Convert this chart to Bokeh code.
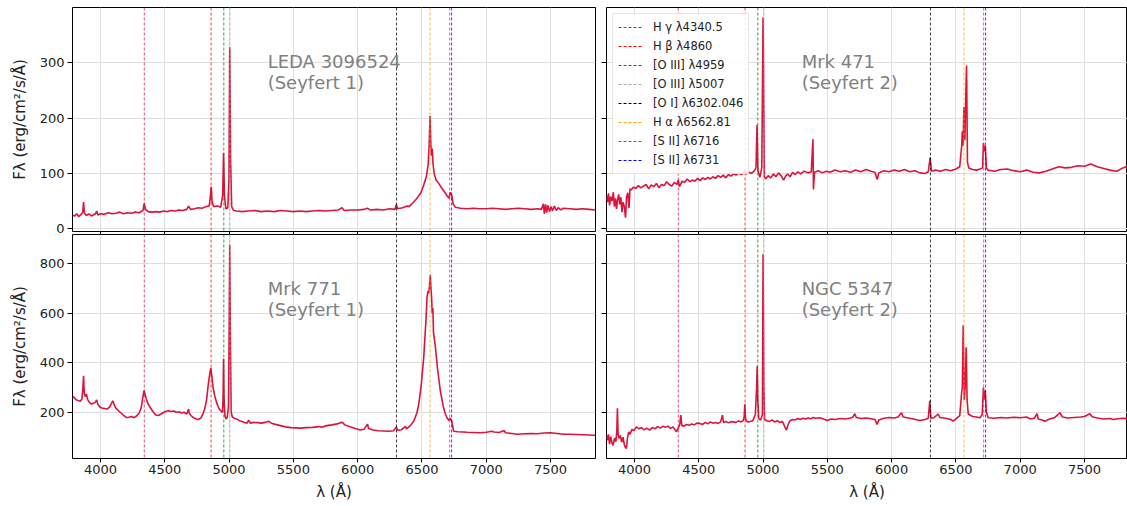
from bokeh.plotting import figure
from bokeh.models import (Range1d, Span, Legend, LegendItem, Label, FixedTicker,
                          CustomJSTickFormatter, ColumnDataSource)
from bokeh.layouts import column, row
from bokeh.embed import file_html
from bokeh.resources import INLINE

# ---------------- data ----------------
panel_names = ["LEDA 3096524", "Mrk 471", "Mrk 771", "NGC 5347"]
panel_types = ["Seyfert 1", "Seyfert 2", "Seyfert 1", "Seyfert 2"]

line_labels = ["H γ λ4340.5", "H β λ4860", "[O III] λ4959", "[O III] λ5007",
               "[O I] λ6302.046", "H α λ6562.81", "[S II] λ6716", "[S II] λ6731"]
line_wavelengths = [4340.5, 4860, 4959, 5007, 6302.046, 6562.81, 6716, 6731]
line_colors = ["crimson", "red", "green", "darkgray", "black", "orange", "magenta", "blue"]

x_ticks = [4000, 4500, 5000, 5500, 6000, 6500, 7000, 7500]
y_ticks_top = [0, 100, 200, 300]
y_ticks_bottom = [200, 400, 600, 800]

# LEDA 3096524 (Seyfert 1)
leda_wl = [3782, 3800, 3815, 3830, 3850, 3862, 3868, 3875, 3890, 3910, 3930, 3960, 3970, 3980,
           4000, 4030, 4060, 4090, 4120, 4150, 4180, 4210, 4240, 4270, 4300, 4330, 4340, 4350,
           4370, 4400, 4430, 4460, 4490, 4520, 4550, 4580, 4610, 4640, 4670, 4685, 4700, 4730,
           4760, 4790, 4820, 4845, 4853, 4861, 4868, 4880, 4910, 4935, 4950, 4957, 4964, 4975,
           4990, 4999, 5005, 5012, 5020, 5035, 5060, 5100, 5150, 5200, 5250, 5300, 5350, 5400,
           5450, 5500, 5550, 5600, 5650, 5700, 5750, 5800, 5850, 5878, 5895, 5950, 6000, 6050,
           6073, 6100, 6150, 6200, 6250, 6290, 6301, 6310, 6350, 6384, 6400, 6430, 6462, 6490,
           6514, 6535, 6548, 6556, 6563, 6568, 6573, 6580, 6586, 6595, 6610, 6630, 6650, 6680,
           6700, 6712, 6718, 6725, 6733, 6742, 6760, 6800, 6850, 6900, 6950, 7000, 7050, 7100,
           7150, 7200, 7250, 7300, 7350, 7400, 7430, 7445, 7452, 7462, 7470, 7480, 7492, 7505,
           7515, 7530, 7545, 7560, 7580, 7600, 7650, 7700, 7750, 7800, 7850]
leda_flux = [25, 23, 27, 22, 26, 30, 48, 28, 24, 27, 23, 27, 32, 25,
             27, 26, 29, 27, 28, 30, 27, 29, 28, 30, 29, 33, 46, 35,
             31, 30, 31, 30, 32, 31, 33, 32, 34, 33, 35, 41, 35, 36,
             38, 37, 40, 41, 55, 76, 48, 40, 41, 39, 60, 137, 60, 36,
             38, 90, 328, 120, 40, 33, 32, 31, 32, 33, 31, 32, 31, 33,
             32, 31, 32, 31, 32, 33, 32, 33, 34, 38, 33, 34, 34, 35,
             37, 34, 35, 34, 36, 35, 44, 36, 38, 41, 40, 47, 55, 64,
             79, 95, 115, 150, 204, 160, 132, 145, 118, 100, 88, 82, 75, 65,
             58, 55, 66, 63, 60, 45, 39, 37, 36, 37, 36, 36, 37, 36,
             35, 36, 37, 36, 35, 36, 35, 45, 27, 44, 29, 42, 31, 40,
             32, 41, 33, 38, 34, 37, 36, 35, 36, 35, 34]

# Mrk 471 (Seyfert 2)
mrk471_wl = [3782, 3790, 3798, 3806, 3815, 3825, 3835, 3843, 3852, 3860, 3868, 3877, 3885, 3893,
             3902, 3910, 3920, 3930, 3938, 3948, 3957, 3965, 3975, 3990, 4010, 4030, 4050, 4070,
             4090, 4110, 4130, 4150, 4170, 4190, 4210, 4230, 4250, 4270, 4290, 4310, 4330, 4340,
             4350, 4370, 4390, 4410, 4430, 4450, 4470, 4490, 4510, 4530, 4550, 4570, 4590, 4610,
             4630, 4650, 4670, 4690, 4710, 4730, 4750, 4770, 4790, 4810, 4830, 4845, 4858, 4870,
             4890, 4910, 4930, 4945, 4953, 4960, 4975, 4990, 5000, 5010, 5020, 5040, 5060, 5080,
             5100, 5120, 5140, 5160, 5175, 5190, 5210, 5230, 5250, 5270, 5290, 5320, 5350, 5375,
             5388, 5392, 5400, 5430, 5460, 5490, 5520, 5560, 5600, 5640, 5680, 5720, 5760, 5800,
             5840, 5870, 5888, 5900, 5940, 5980, 6020, 6060, 6100, 6140, 6180, 6220, 6260, 6285,
             6300, 6310, 6340, 6380, 6420, 6460, 6500, 6530, 6545, 6550, 6556, 6562, 6570, 6578,
             6583, 6590, 6600, 6630, 6660, 6690, 6708, 6714, 6722, 6729, 6737, 6750, 6800, 6850,
             6900, 6950, 7000, 7050, 7100, 7150, 7200, 7250, 7300, 7350, 7400, 7450, 7500, 7550,
             7600, 7650, 7700, 7750, 7800, 7830, 7850]
mrk471_flux = [60, 48, 64, 42, 58, 50, 66, 40, 55, 36, 52, 62, 44, 57,
               30, 48, 41, 20, 58, 65, 37, 72, 70, 75, 73, 78, 74, 77,
               80, 72, 79, 76, 82, 74, 80, 78, 85, 80, 77, 84, 80, 88,
               76, 86, 84, 90, 85, 88, 86, 91, 87, 92, 89, 93, 90, 94,
               91, 96, 93, 97, 92, 98, 95, 99, 97, 101, 98, 100, 106, 99,
               102, 100, 104, 110, 188, 105, 93, 110, 382, 95, 90, 96, 92, 99,
               94, 101, 96, 88, 95, 99, 94, 102, 98, 103, 99, 104, 101, 103,
               162, 71, 102, 105, 101, 104, 102, 106, 103, 105, 102, 106, 103, 107,
               104, 102, 89, 101, 105, 103, 106, 104, 107, 103, 105, 101, 100, 103,
               129, 104, 106, 104, 107, 105, 108, 112, 150, 176, 150, 220, 160, 250,
               295, 120, 110, 107, 106, 108, 110, 155, 140, 150, 110, 106, 104, 107,
               108, 105, 103, 106, 102, 101, 104, 108, 112, 110, 111, 114, 113, 117,
               112, 109, 106, 104, 110, 113, 108]

# Mrk 771 (Seyfert 1)
mrk771_wl = [3782, 3795, 3810, 3825, 3840, 3855, 3862, 3868, 3874, 3882, 3890, 3900, 3915, 3930,
             3945, 3960, 3970, 3980, 3995, 4010, 4030, 4050, 4070, 4085, 4096, 4105, 4120, 4140,
             4160, 4180, 4200, 4220, 4240, 4260, 4280, 4300, 4315, 4328, 4338, 4345, 4355, 4370,
             4390, 4410, 4430, 4450, 4470, 4490, 4510, 4530, 4550, 4570, 4590, 4610, 4630, 4650,
             4670, 4685, 4690, 4705, 4720, 4740, 4760, 4780, 4795, 4810, 4825, 4840, 4850, 4858,
             4866, 4875, 4890, 4905, 4920, 4935, 4948, 4953, 4957, 4961, 4968, 4975, 4985, 4995,
             5000, 5005, 5010, 5016, 5025, 5040, 5060, 5080, 5100, 5120, 5140, 5152, 5165, 5190,
             5220, 5250, 5280, 5305, 5330, 5360, 5400, 5440, 5480, 5520, 5560, 5600, 5650, 5700,
             5720, 5760, 5800, 5840, 5870, 5885, 5900, 5940, 5980, 6020, 6050, 6077, 6085, 6120,
             6160, 6200, 6240, 6280, 6301, 6310, 6340, 6371, 6380, 6410, 6436, 6460, 6475, 6495,
             6514, 6530, 6540, 6548, 6553, 6560, 6565, 6570, 6575, 6580, 6585, 6590, 6605, 6620,
             6643, 6665, 6680, 6695, 6710, 6718, 6725, 6732, 6747, 6780, 6820, 6851, 6900, 6950,
             7000, 7045, 7060, 7100, 7141, 7150, 7200, 7240, 7300, 7350, 7400, 7450, 7500, 7550,
             7600, 7650, 7700, 7750, 7800, 7850]
mrk771_flux = [265, 258, 250, 247, 243, 252, 290, 347, 275, 262, 273, 250, 238, 232,
               235, 240, 249, 230, 220, 216, 214, 212, 220, 235, 245, 232, 215, 205,
               196, 186, 178, 179, 182, 177, 184, 195, 215, 255, 286, 275, 255, 233,
               215, 200, 188, 186, 192, 198, 203, 205, 202, 204, 199, 201, 196, 199,
               192, 212, 195, 185, 178, 173, 170, 175, 190, 212, 250, 320, 355, 378,
               345, 300, 262, 235, 215, 205, 198, 250, 415, 250, 185, 172, 178, 220,
               500, 877, 500, 200, 180, 175, 172, 165, 162, 158, 155, 167, 155, 158,
               157, 155, 158, 163, 155, 150, 145, 140, 137, 136, 135, 137, 138, 141,
               138, 145, 148, 152, 158, 157, 148, 140, 133, 127, 130, 151, 133, 127,
               124, 123, 122, 124, 140, 126, 128, 142, 132, 145, 163, 195, 231, 310,
               422, 560, 667, 690, 680, 720, 755, 700, 665, 600, 620, 520, 462, 380,
               286, 225, 195, 177, 165, 175, 170, 162, 122, 120, 119, 118, 117, 116,
               118, 122, 119, 117, 125, 116, 113, 110, 112, 113, 112, 115, 116, 113,
               110, 110, 109, 108, 107, 106]

# NGC 5347 (Seyfert 2)
ngc5347_wl = [3782, 3790, 3798, 3806, 3815, 3825, 3833, 3845, 3855, 3862, 3867, 3872, 3880, 3890,
              3900, 3910, 3920, 3930, 3937, 3945, 3955, 3965, 3980, 3995, 4015, 4035, 4055, 4075,
              4095, 4118, 4140, 4160, 4180, 4200, 4220, 4240, 4260, 4280, 4300, 4315, 4326, 4340,
              4352, 4360, 4368, 4385, 4405, 4425, 4445, 4465, 4485, 4507, 4530, 4550, 4570, 4590,
              4610, 4630, 4650, 4670, 4684, 4692, 4710, 4730, 4750, 4767, 4790, 4810, 4830, 4845,
              4853, 4858, 4864, 4880, 4900, 4920, 4940, 4950, 4954, 4959, 4966, 4980, 4995, 5000,
              5006, 5012, 5030, 5050, 5070, 5090, 5110, 5130, 5150, 5170, 5182, 5195, 5210, 5230,
              5250, 5270, 5290, 5310, 5330, 5350, 5370, 5390, 5410, 5441, 5470, 5498, 5530, 5560,
              5600, 5640, 5680, 5700, 5714, 5725, 5760, 5800, 5840, 5870, 5887, 5900, 5940, 5980,
              6020, 6050, 6077, 6090, 6130, 6170, 6219, 6260, 6285, 6297, 6305, 6330, 6362, 6375,
              6420, 6460, 6479, 6500, 6530, 6544, 6550, 6557, 6565, 6572, 6580, 6587, 6596, 6630,
              6660, 6687, 6705, 6714, 6722, 6729, 6737, 6751, 6800, 6850, 6900, 6950, 7000, 7050,
              7080, 7110, 7132, 7140, 7170, 7192, 7230, 7270, 7309, 7330, 7370, 7420, 7470, 7500,
              7542, 7560, 7600, 7650, 7700, 7724, 7760, 7800, 7828, 7850]
ngc5347_flux = [106, 85, 110, 70, 100, 75, 65, 95, 80, 120, 215, 110, 93, 105,
                78, 98, 70, 55, 53, 95, 120, 110, 130, 125, 140, 132, 137, 128,
                135, 127, 138, 132, 141, 135, 142, 138, 143, 134, 140, 128, 120, 135,
                150, 188, 145, 143, 150, 146, 152, 148, 155, 154, 150, 158, 152, 160,
                155, 158, 154, 160, 188, 158, 162, 156, 161, 160, 158, 164, 160, 165,
                180, 231, 170, 160, 162, 165, 190, 300, 385, 250, 175, 167, 190, 838,
                300, 170, 165, 162, 168, 160, 165, 158, 162, 140, 127, 150, 165, 170,
                168, 174, 170, 175, 172, 176, 173, 178, 175, 177, 172, 166, 172, 170,
                174, 172, 176, 180, 193, 178, 174, 176, 173, 170, 150, 168, 175, 178,
                176, 180, 197, 180, 176, 172, 166, 170, 175, 245, 175, 177, 192, 178,
                175, 170, 163, 172, 185, 275, 300, 551, 250, 300, 462, 250, 192, 182,
                180, 177, 190, 299, 250, 286, 200, 177, 175, 178, 176, 179, 177, 180,
                172, 175, 193, 172, 168, 163, 172, 178, 197, 180, 176, 178, 180, 182,
                193, 181, 176, 172, 174, 170, 173, 175, 174, 172]

spectra_wl = [leda_wl, mrk471_wl, mrk771_wl, ngc5347_wl]
spectra_flux = [leda_flux, mrk471_flux, mrk771_flux, ngc5347_flux]

# ---------------- styling ----------------
FONT = "DejaVu Sans"
SPEC_COLOR = "#dc143c"
GRID_COLOR = "#dedede"
TEXT_COLOR = "#222222"

x_range_left = Range1d(3782, 7850)
x_range_right = Range1d(3782, 7835)
y_range_top = Range1d(-5, 400)
y_range_bottom = Range1d(12, 918)

TOP_BOTTOM_BORDER = 10   # room below top panels so the "0" tick label is not clipped
OVERLAP = 8              # bottom row is pulled up over that border (transparent)


def make_panel(idx, is_left, is_bottom):
    x_range = x_range_left if is_left else x_range_right
    y_range = y_range_bottom if is_bottom else y_range_top
    p = figure(x_range=x_range, y_range=y_range,
               frame_width=523 if is_left else 521, frame_height=224,
               min_border_left=72 if is_left else 10,
               min_border_right=1 if is_left else 0,
               min_border_top=1 if is_bottom else 7,
               min_border_bottom=48 if is_bottom else TOP_BOTTOM_BORDER,
               output_backend="svg", toolbar_location=None)
    p.background_fill_color = "white"
    p.border_fill_color = None if is_bottom else "white"
    p.outline_line_color = "black"
    p.outline_line_width = 1

    yt = y_ticks_bottom if is_bottom else y_ticks_top
    p.xgrid.ticker = FixedTicker(ticks=x_ticks)
    p.ygrid.ticker = FixedTicker(ticks=yt)
    for g in (p.xgrid, p.ygrid):
        g.grid_line_color = GRID_COLOR
        g.grid_line_width = 1

    ax = p.xaxis[0]
    ax.ticker = FixedTicker(ticks=x_ticks)
    ax.axis_line_color = None
    ax.major_tick_out = 4
    ax.major_tick_in = 0
    ax.minor_tick_line_color = None
    if is_bottom:
        ax.major_label_text_font = FONT
        ax.major_label_text_font_size = "13px"
        ax.major_label_text_color = TEXT_COLOR
        ax.major_label_standoff = 2
        ax.axis_label = "λ (Å)"
        ax.axis_label_text_font = FONT
        ax.axis_label_text_font_size = "15px"
        ax.axis_label_text_font_style = "normal"
        ax.axis_label_text_color = TEXT_COLOR
        ax.axis_label_standoff = 6
    else:
        ax.formatter = CustomJSTickFormatter(code="return ''")
        ax.major_label_standoff = 0

    yax = p.yaxis[0]
    yax.ticker = FixedTicker(ticks=yt)
    yax.axis_line_color = None
    yax.major_tick_out = 5
    yax.major_tick_in = 0
    yax.minor_tick_line_color = None
    if is_left:
        yax.major_label_text_font = FONT
        yax.major_label_text_font_size = "13px"
        yax.major_label_text_color = TEXT_COLOR
        yax.major_label_standoff = 3
        yax.axis_label = "Fλ (erg/cm²/s/Å)"
        yax.axis_label_text_font = FONT
        yax.axis_label_text_font_size = "15px"
        yax.axis_label_text_font_style = "normal"
        yax.axis_label_text_color = TEXT_COLOR
        yax.axis_label_standoff = 8
    else:
        yax.formatter = CustomJSTickFormatter(code="return ''")
        yax.major_label_standoff = 0

    # spectrum
    src = ColumnDataSource(data=dict(wl=spectra_wl[idx], flux=spectra_flux[idx]))
    p.line("wl", "flux", source=src, line_color=SPEC_COLOR, line_width=1.6)

    # reference emission lines
    for wl, col in zip(line_wavelengths, line_colors):
        p.add_layout(Span(location=wl, dimension="height", line_color=col,
                          line_dash="3 2", line_width=0.9, line_alpha=0.85))

    # name annotation
    ys = y_range.start + 0.71 * (y_range.end - y_range.start)
    p.add_layout(Label(x=5300, y=ys, text=f"{panel_names[idx]}\n({panel_types[idx]})",
                       text_font=FONT, text_font_size="18px", text_color="#808080",
                       text_baseline="middle", text_align="left", text_line_height=1.0))
    return p


p_tl = make_panel(0, True, False)
p_tr = make_panel(1, False, False)
p_bl = make_panel(2, True, True)
p_br = make_panel(3, False, True)

# legend in top-right panel (dummy renderers carry the line styles)
nan = float("nan")
items = []
for lab, col in zip(line_labels, line_colors):
    r = p_tr.line(x=[nan], y=[nan], line_color=col, line_dash="3 2", line_width=1)
    items.append(LegendItem(label=lab, renderers=[r]))
legend = Legend(items=items, location="top_left",
                label_text_font=FONT, label_text_font_size="11.5px",
                label_text_color=TEXT_COLOR,
                glyph_width=25, glyph_height=16, label_height=16,
                spacing=3, padding=5, margin=6, label_standoff=10,
                border_line_color="#cccccc", border_line_width=1,
                background_fill_color="white", background_fill_alpha=0.85)
p_tr.add_layout(legend)

top_row = row(p_tl, p_tr)
bottom_row = row(p_bl, p_br)
bottom_row.margin = (-OVERLAP, 0, 0, 0)
layout = column(top_row, bottom_row)

with open("out.html", "w") as f:
    f.write(file_html(layout, INLINE))
